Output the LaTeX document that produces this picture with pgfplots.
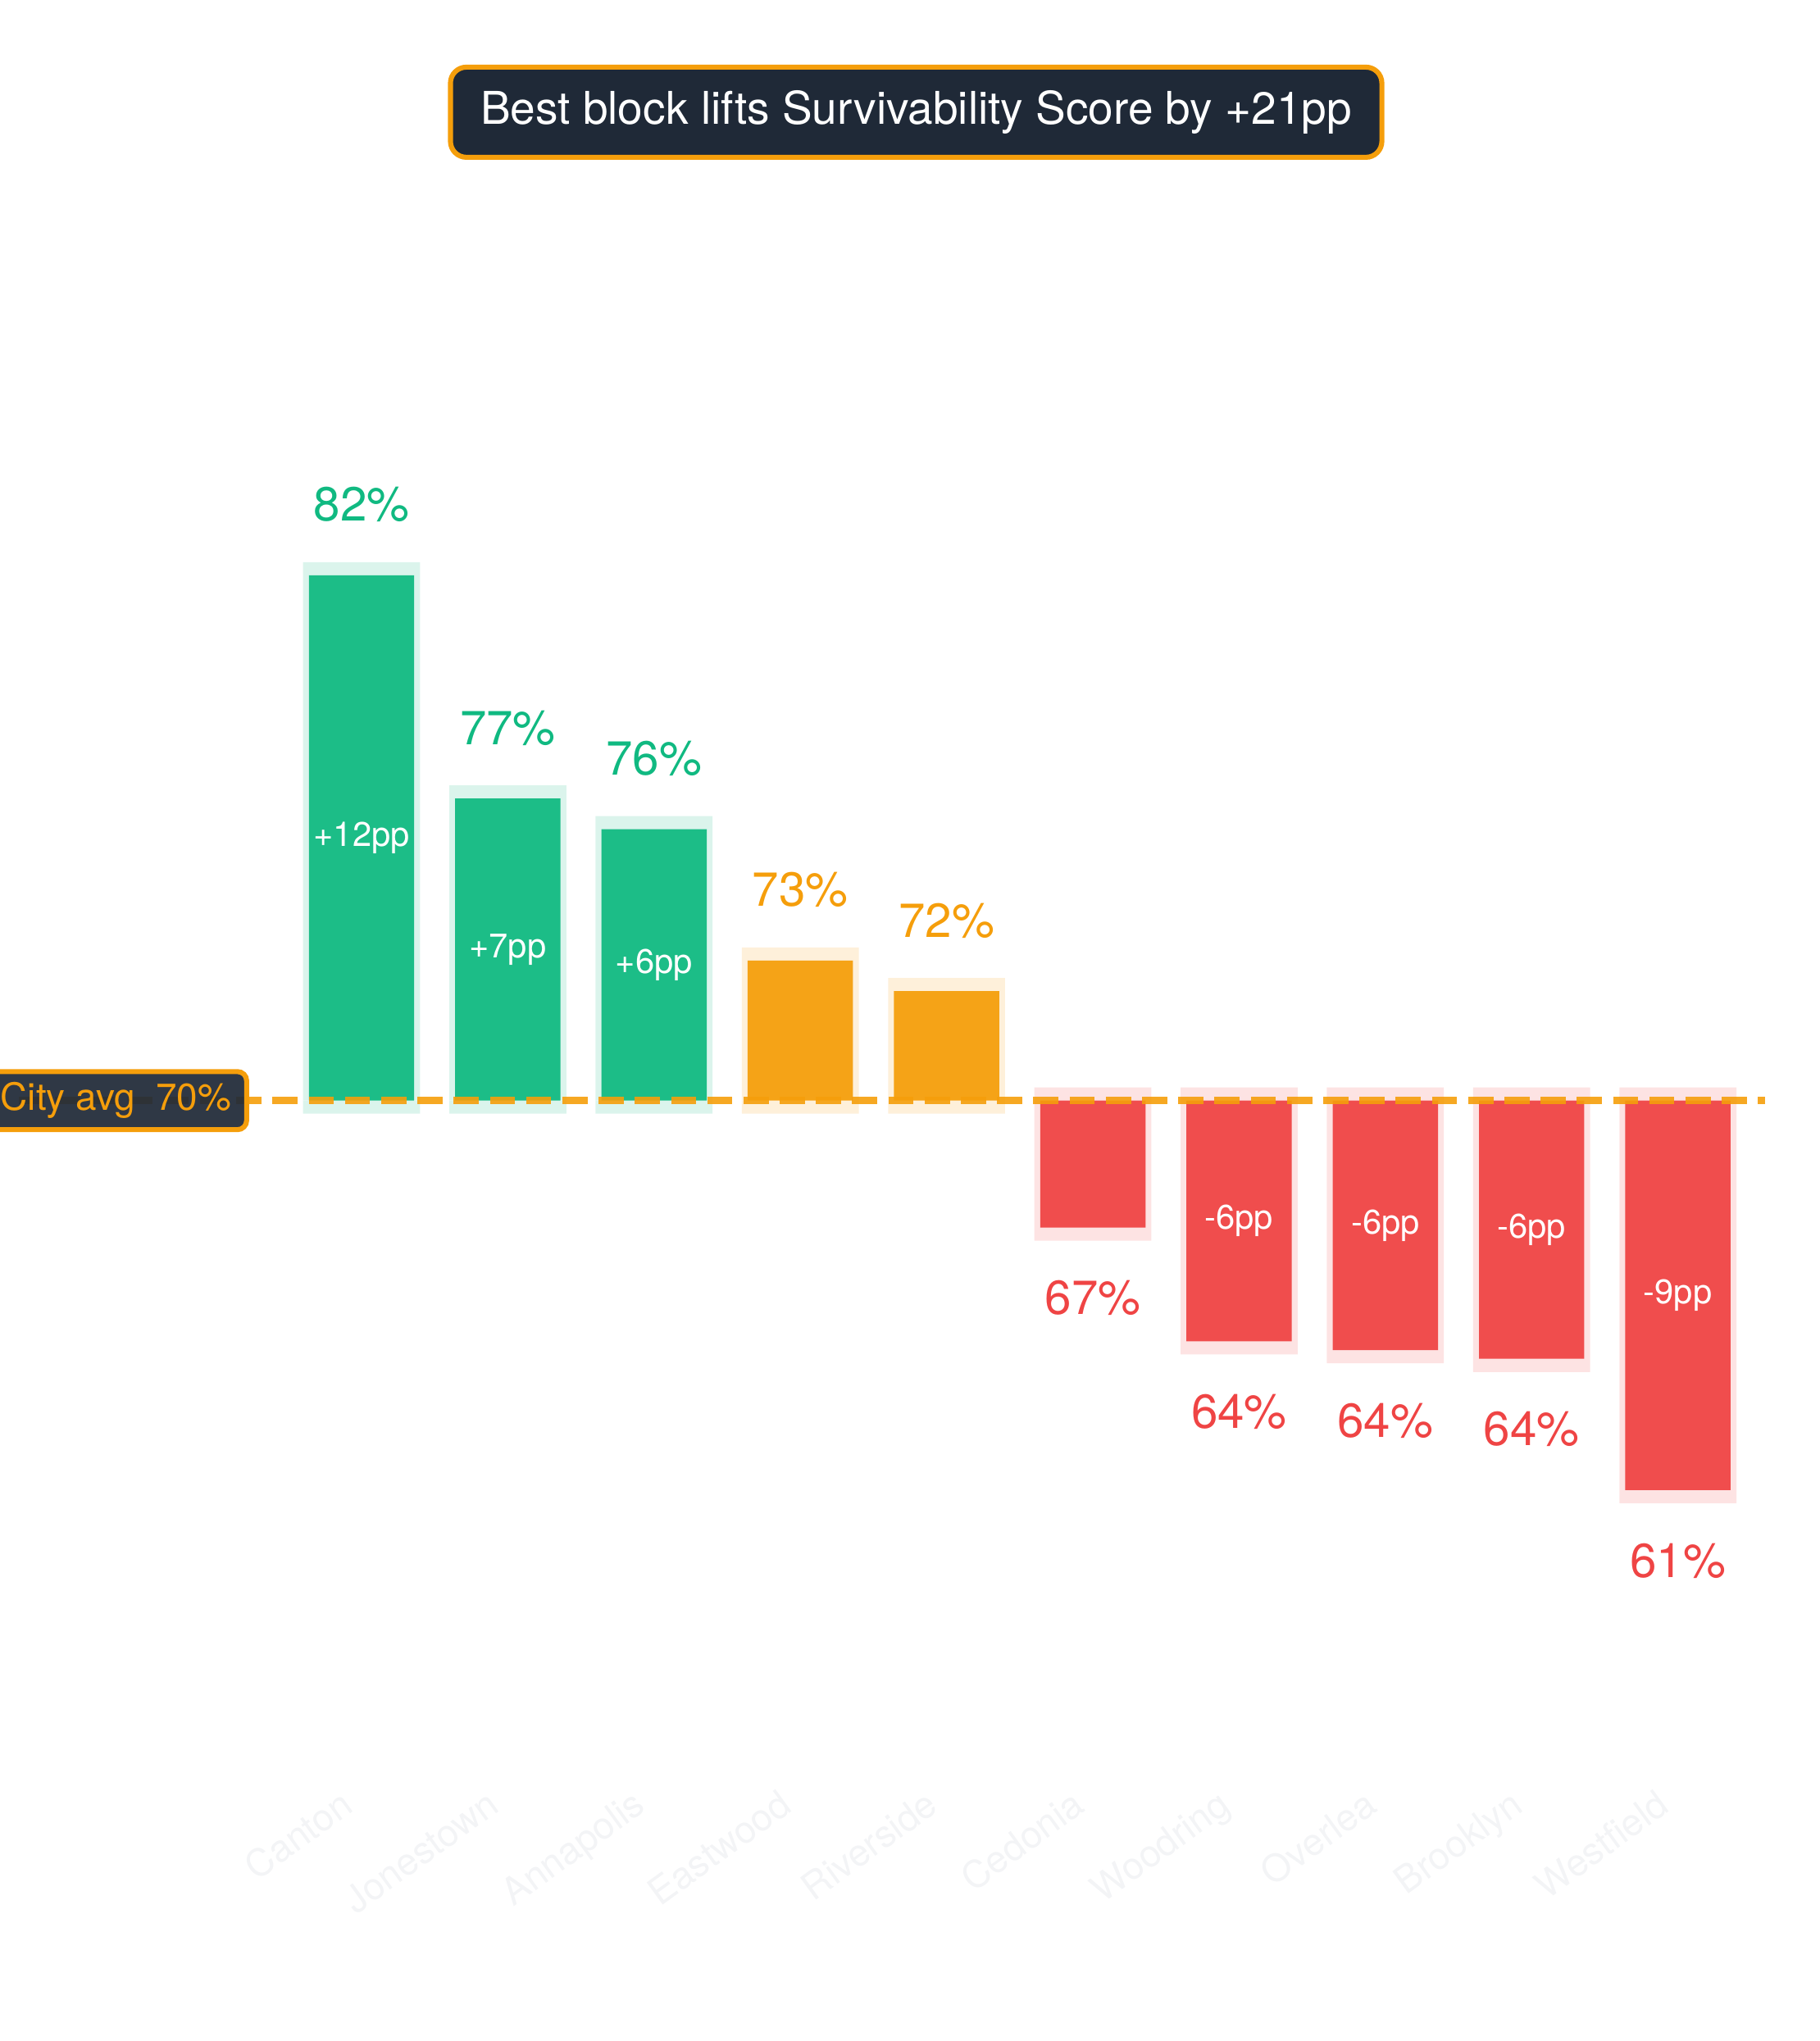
\documentclass[border=0pt]{standalone}
\usepackage{fontspec}
\setmainfont{TeX Gyre Heros}
\usepackage{pgfplots}
\usepackage{pgfplotstable}
\pgfplotsset{compat=1.18}

\definecolor{emer}{HTML}{10B981}
\definecolor{ambr}{HTML}{F59E0B}
\definecolor{redd}{HTML}{EF4444}
\definecolor{navy}{HTML}{1F2937}
\definecolor{ticklab}{HTML}{F3F4F6}

% survivability score per block (%), rounded label, gap to city avg (pp)
\pgfplotstableread{
x v val pp
0 82.0 82 +12
1 76.9 77 +7
2 76.2 76 +6
}\greendata
\pgfplotstableread{
x v val
3 73.2 73
4 72.5 72
}\amberdata
\pgfplotstableread{
x v val
5 67.1 67
6 64.5 64
7 64.3 64
8 64.1 64
9 61.1 61
}\reddata
% gap labels only where the gap is at least 5pp
\pgfplotstableread{
x v pp
6 64.5 -6
7 64.3 -6
8 64.1 -6
9 61.1 -9
}\redgap

\newcommand{\valfont}{\fontsize{21}{25}\selectfont}
\newcommand{\ppfont}{\fontsize{15}{18}\selectfont}

\begin{document}
\begin{tikzpicture}
\path[use as bounding box] (0,0) rectangle (799.2pt,896.4pt);
\begin{axis}[
    at={(0pt,896.4pt)}, anchor=north west,
    scale only axis, width=799.2pt, height=784.8pt,
    xmin=-2.472, xmax=9.972, ymin=-15.680, ymax=25.144,
    axis line style={draw=none}, tick style={draw=none},
    ytick=\empty,
    xtick={0,...,9},
    xticklabels={Canton,Jonestown,Annapolis,Eastwood,Riverside,Cedonia,Woodring,Overlea,Brooklyn,Westfield},
    xticklabel style={rotate=36, anchor=north east, inner sep=0pt, xshift=-8.2pt, yshift=5.8pt,
        text=ticklab, font=\fontsize{16.5}{19}\selectfont},
    clip=false,
]
% halos
\addplot[ybar, bar shift=0pt, bar width=0.80, fill=emer!15!white, draw=none] table[x=x, y expr=\thisrow{v}-70+0.3] {\greendata};
\addplot[ybar, bar shift=0pt, bar width=0.80, fill=emer!15!white, draw=none] table[x=x, y expr=-0.3] {\greendata};
\addplot[ybar, bar shift=0pt, bar width=0.80, fill=ambr!15!white, draw=none] table[x=x, y expr=\thisrow{v}-70+0.3] {\amberdata};
\addplot[ybar, bar shift=0pt, bar width=0.80, fill=ambr!15!white, draw=none] table[x=x, y expr=-0.3] {\amberdata};
\addplot[ybar, bar shift=0pt, bar width=0.80, fill=redd!15!white, draw=none] table[x=x, y expr=\thisrow{v}-70-0.3] {\reddata};
\addplot[ybar, bar shift=0pt, bar width=0.80, fill=redd!15!white, draw=none] table[x=x, y expr=0.3] {\reddata};

% bars
\addplot[ybar, bar shift=0pt, bar width=0.72, fill=emer!95!white, draw=none] table[x=x, y expr=\thisrow{v}-70] {\greendata};
\addplot[ybar, bar shift=0pt, bar width=0.72, fill=ambr!95!white, draw=none] table[x=x, y expr=\thisrow{v}-70] {\amberdata};
\addplot[ybar, bar shift=0pt, bar width=0.72, fill=redd!95!white, draw=none] table[x=x, y expr=\thisrow{v}-70] {\reddata};

% city average
\addplot[ambr, opacity=0.9, line width=3.24pt, dash pattern=on 11.05pt off 4.86pt] coordinates {(-2.343,0) (9.596,0)};

% value labels
\addplot[draw=none, mark=none, point meta=explicit symbolic, nodes near coords={\pgfplotspointmeta\%},
    every node near coord/.append style={font=\valfont, text=emer, anchor=center, inner sep=0pt}]
    table[x=x, y expr=\thisrow{v}-70+1.61, meta=val] {\greendata};
\addplot[draw=none, mark=none, point meta=explicit symbolic, nodes near coords={\pgfplotspointmeta\%},
    every node near coord/.append style={font=\valfont, text=ambr, anchor=center, inner sep=0pt}]
    table[x=x, y expr=\thisrow{v}-70+1.61, meta=val] {\amberdata};
\addplot[draw=none, mark=none, point meta=explicit symbolic, nodes near coords={\pgfplotspointmeta\%},
    every node near coord/.append style={font=\valfont, text=redd, anchor=center, inner sep=0pt}]
    table[x=x, y expr=\thisrow{v}-70-1.61, meta=val] {\reddata};

% gap labels inside bars
\addplot[draw=none, mark=none, point meta=explicit symbolic, nodes near coords={\pgfplotspointmeta pp},
    every node near coord/.append style={font=\ppfont, text=white, anchor=center, inner sep=0pt}]
    table[x=x, y expr=(\thisrow{v}-70)/2, meta=pp] {\greendata};
\addplot[draw=none, mark=none, point meta=explicit symbolic, nodes near coords={\pgfplotspointmeta pp},
    every node near coord/.append style={font=\ppfont, text=white, anchor=center, inner sep=0pt}]
    table[x=x, y expr=(\thisrow{v}-70)/2, meta=pp] {\redgap};
\end{axis}

\node[anchor=east, fill=navy, fill opacity=0.93, text opacity=1, draw=ambr, draw opacity=1,
    line width=2.2pt, rounded corners=4pt, inner xsep=6.8pt, minimum height=25.5pt,
    text=ambr, font=\fontsize{16.5}{19}\selectfont] at (109.4pt,413.0pt) {City avg\ \ 70\%};

\node[fill=navy, draw=ambr, line width=2.2pt, rounded corners=7pt,
    minimum width=409pt, minimum height=39.6pt, text=white,
    font=\fontsize{19.8}{23}\selectfont] at (402.3pt,847.1pt) {Best block lifts Survivability Score by +21pp};
\end{tikzpicture}
\end{document}
